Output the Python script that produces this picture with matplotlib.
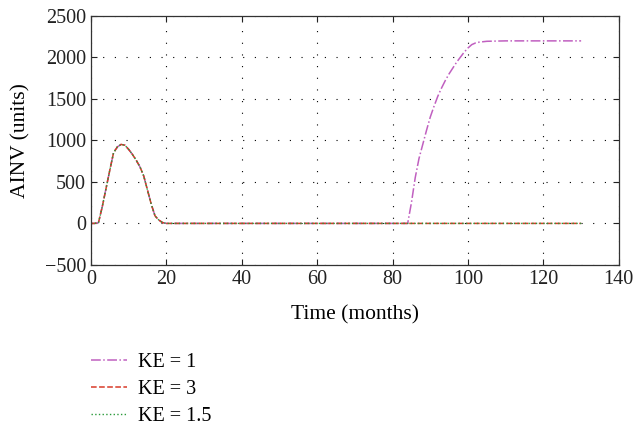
import matplotlib
matplotlib.use('Agg')
import matplotlib.pyplot as plt

# --- Veriler ---
# Ortak başlangıç tepesi (tüm KE değerleri için aynı)
t_peak = [0, 1, 2, 3, 4, 5, 6, 7, 8, 9, 10, 11, 12, 13, 14, 15, 16, 17, 18, 19, 20]
ainv_peak = [0, 0, 10, 200, 420, 640, 850, 920, 950, 940, 890, 830, 760, 680,
             570, 400, 230, 90, 40, 10, 0]

# KE = 1 için sonradan gelen yükseliş
t_rise = [30, 40, 50, 60, 70, 80, 84, 85, 86, 87, 88, 89, 90, 91, 92, 93, 94, 95,
          96, 97, 98, 99, 100, 101, 102, 103, 105, 110, 120, 130]
ainv_rise = [0, 0, 0, 0, 0, 0, 0, 250, 550, 780, 950, 1120, 1280, 1410, 1530,
             1630, 1720, 1800, 1870, 1940, 2000, 2060, 2110, 2150, 2170, 2180,
             2190, 2195, 2195, 2195]

# KE = 3 ve KE = 1.5 tepeden sonra sıfırda kalıyor
t_flat = [30, 40, 50, 60, 70, 80, 90, 100, 110, 120, 130]
ainv_flat = [0, 0, 0, 0, 0, 0, 0, 0, 0, 0, 0]

labels = ['KE = 1', 'KE = 3', 'KE = 1.5']

plt.rcParams['font.family'] = ['Liberation Serif', 'DejaVu Serif']
plt.rcParams['font.size'] = 14.5

fig = plt.figure(figsize=(6.36, 4.25), dpi=100)
ax = fig.add_axes([0.143, 0.3765, 0.830, 0.587])

ax.plot(t_peak + t_rise, ainv_peak + ainv_rise, color='#c060c0', ls='-.', lw=1.1, label=labels[0])
ax.plot(t_peak + t_flat, ainv_peak + ainv_flat, color='#d83a28', ls='--', lw=1.1, label=labels[1])
ax.plot(t_peak + t_flat, ainv_peak + ainv_flat, color='#2a9a3a', ls=':', lw=1.0, label=labels[2])

ax.set_xlim(0, 140)
ax.set_ylim(-500, 2500)
ax.set_xticks(range(0, 141, 20))
ax.set_yticks(range(-500, 2501, 500))
ax.grid(True, color='black', ls=(0, (1, 9.5)), lw=0.8)
ax.tick_params(direction='in', top=True, right=True, length=4, colors='#222222',
               labelsize=14.5)
for s in ax.spines.values():
    s.set_color('#333333')
    s.set_linewidth(0.9)

ax.set_xlabel('Time (months)', fontsize=15.5, labelpad=12)
ax.set_ylabel('AINV (units)', fontsize=15.5, labelpad=10)

fig.legend(loc='upper left', bbox_to_anchor=(0.130, 0.188), frameon=False,
           handlelength=1.8, handletextpad=0.55, labelspacing=0.38,
           borderaxespad=0, fontsize=14.5)

plt.savefig('out.png', dpi=100)
